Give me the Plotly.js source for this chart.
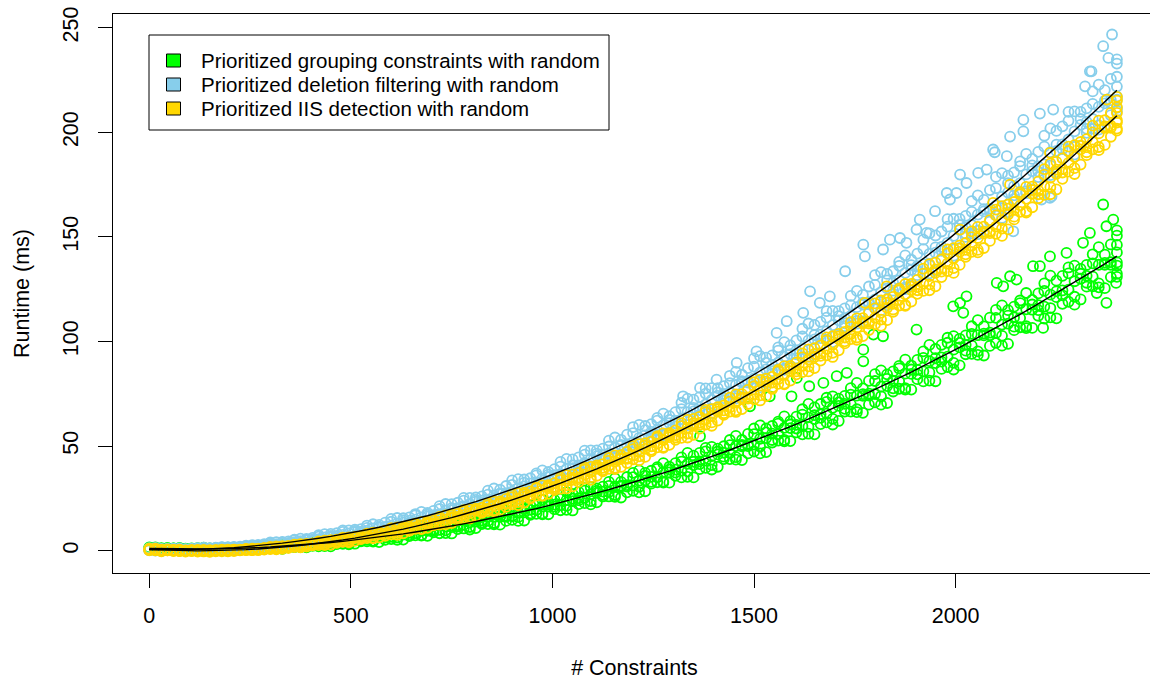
<!DOCTYPE html>
<html>
<head>
<meta charset="utf-8">
<script src="https://cdn.plot.ly/plotly-3.0.1.min.js"></script>
<style>
html,body{margin:0;padding:0;overflow:hidden;background:#fff;}
#chart{width:1170px;height:680px;}
</style>
</head>
<body>
<div id="chart"></div>
<script>
// # Constraints grids used for the sampled scatter rows and fitted curves
const constraints = [0,30,60,90,120,150,180,210,240,270,300,330,360,390,420,450,480,510,540,570,600,630,660,690,720,750,780,810,840,870,900,930,960,990,1020,1050,1080,1110,1140,1170,1200,1230,1260,1290,1320,1350,1380,1410,1440,1470,1500,1530,1560,1590,1620,1650,1680,1710,1740,1770,1800,1830,1860,1890,1920,1950,1980,2010,2040,2070,2100,2130,2160,2190,2220,2250,2280,2310,2340,2370,2400];
const constraintsMid = [15,45,75,105,135,165,195,225,255,285,315,345,375,405,435,465,495,525,555,585,615,645,675,705,735,765,795,825,855,885,915,945,975,1005,1035,1065,1095,1125,1155,1185,1215,1245,1275,1305,1335,1365,1395,1425,1455,1485,1515,1545,1575,1605,1635,1665,1695,1725,1755,1785,1815,1845,1875,1905,1935,1965,1995,2025,2055,2085,2115,2145,2175,2205,2235,2265,2295,2325,2355,2385,2400];

const seriesNames = ["Prioritized grouping constraints with random","Prioritized deletion filtering with random","Prioritized IIS detection with random"];
const seriesColors = ["#00FF00","#87CEEB","#FFD700"];

// Prioritized grouping constraints (green) - runtime samples (ms)
const groupRow1 = [0.6,0.2,0.4,0.2,0.2,0.1,0.5,0.5,0.8,0.7,1.1,0.9,1.7,1.6,2.1,2.0,3.2,3.3,4.4,4.1,5.5,5.3,7.3,7.1,8.3,8.2,10.6,10.8,12.7,12.4,14.7,14.4,17.6,17.4,19.3,19.2,22.7,23.1,25.9,25.4,28.6,28.4,32.7,32.5,35.0,35.0,39.6,40.1,43.8,43.3,47.4,47.1,52.6,52.4,55.6,55.6,61.3,62.0,66.5,65.9,70.9,70.6,77.4,77.0,80.9,81.0,87.8,88.6,94.1,93.3,99.3,98.9,106.8,106.5,111.0,111.1,119.0,120.1,126.4,125.5,132.4];
const groupRow2 = [0.8,0.7,0.4,0.6,0.5,0.7,0.6,0.9,0.9,1.4,1.4,1.8,1.8,2.7,2.8,3.7,3.6,4.7,4.7,6.4,6.3,7.4,7.4,9.4,9.7,11.5,11.3,13.3,13.2,16.1,16.0,17.8,17.8,21.0,21.4,24.1,23.7,26.7,26.6,30.6,30.5,32.9,33.0,37.3,37.9,41.4,40.9,44.9,44.7,50.0,49.8,52.9,53.0,58.4,59.2,63.5,63.0,67.8,67.6,74.1,73.8,77.6,77.7,84.3,85.2,90.4,89.8,95.6,95.3,103.0,102.7,107.1,107.3,115.0,116.0,122.1,121.4,128.1,127.8,136.7,136.3];
const groupRow3 = [1.3,1.0,1.1,0.8,1.0,0.8,1.2,1.1,1.4,1.5,2.1,2.3,3.0,3.0,4.0,4.0,5.4,5.5,6.5,6.6,8.4,8.7,10.3,10.2,12.1,12.0,14.7,14.7,16.3,16.4,19.4,19.9,22.3,22.1,24.9,24.9,28.7,28.6,31.0,31.1,35.1,35.8,39.1,38.8,42.6,42.5,47.5,47.4,50.4,50.5,55.7,56.5,60.7,60.3,65.0,64.8,71.1,70.9,74.6,74.8,81.1,82.1,87.1,86.6,92.2,92.0,99.4,99.3,103.6,103.8,111.3,112.4,118.3,117.7,124.2,124.0,132.6,132.4,137.4,137.6,146.2];
const groupRow4 = [1.6,1.3,1.3,1.1,1.4,1.2,1.4,1.4,1.8,2.0,2.7,2.8,3.6,3.7,5.0,5.1,6.1,6.2,7.9,8.3,9.8,9.8,11.6,11.6,14.1,14.2,15.8,16.0,18.8,19.3,21.7,21.6,24.3,24.3,28.0,28.1,30.3,30.6,34.5,35.2,38.4,38.2,41.8,41.8,46.7,46.7,49.6,49.9,54.9,55.8,59.9,59.6,64.2,64.1,70.2,70.1,73.8,74.0,80.2,81.2,86.2,85.7,91.3,91.2,98.4,98.4,102.6,102.9,110.2,111.4,117.3,116.7,123.2,123.0,131.5,131.4,136.3,136.6,145.1,146.4,153.1];
const groupRow5 = [0.5,0.6,0.4,0.5,0.3,0.5,0.4,0.8,0.8,1.0,1.0,1.6,1.7,2.3,2.2,3.1,3.0,4.4,4.3,5.2,5.2,6.9,7.2,8.7,8.4,10.3,10.1,12.7,12.6,14.2,14.2,17.1,17.4,19.8,19.5,22.2,22.1,25.9,25.7,27.9,27.9,32.0,32.5,35.8,35.3,39.0,38.8,43.8,43.5,46.5,46.5,51.7,52.3,56.5,55.9,60.5,60.3,66.5,66.2,69.8,69.8,76.1,77.0,82.0,81.3,86.9,86.6,93.9,93.6,97.9,98.0,105.4,106.4,112.3,111.5,118.0,117.6,126.2,125.9,130.8,130.9];
const groupRow6 = [1.5,1.2,1.1,0.9,1.2,1.1,1.3,1.3,1.6,1.7,2.5,2.6,3.2,3.3,4.5,4.8,5.9,5.9,7.3,7.3,9.3,9.3,10.6,10.8,13.1,13.5,15.5,15.4,17.7,17.7,20.9,20.9,22.9,23.0,26.5,27.1,29.9,29.7,32.9,32.9,37.2,37.2,39.9,40.1,44.6,45.4,49.1,48.8,52.9,52.9,58.4,58.4,61.7,61.9,67.6,68.5,73.1,72.7,77.7,77.6,84.4,84.3,88.3,88.5,95.3,96.4,101.8,101.3,107.3,107.2,115.1,115.0,119.6,119.9,127.8,129.1,135.4,134.7,141.7,141.5,150.6];
const groupRow7 = [0.9,0.8,0.7,0.7,0.5,0.7,0.8,1.0,1.1,1.4,1.5,1.9,2.2,2.7,2.9,3.6,4.2,5.1,5.2,6.3,6.6,7.7,8.4,9.5,9.9,11.2,12.3,13.9,14.2,16.1,16.5,18.3,19.4,21.1,21.7,23.7,25.2,27.6,28.0,30.6,31.2,33.6,35.1,37.4,38.3,40.9,43.0,46.0,46.6,49.9,50.7,53.8,55.7,58.6,59.6,62.9,65.5,69.2,69.9,74.0,74.9,78.7,81.0,84.5,85.7,89.7,92.8,97.2,98.0,102.9,104.0,108.5,111.2,115.2,116.7,121.2,124.8,130.0,131.0,136.6,137.8];
const groupRow8 = [1.1,1.0,0.9,0.8,0.9,0.8,1.0,1.1,1.4,1.5,1.9,2.2,2.7,3.0,3.7,4.1,4.8,5.3,6.3,6.6,7.6,8.5,9.5,10.1,11.5,12.2,13.5,14.4,16.1,16.6,18.1,19.5,21.1,22.0,24.1,25.1,27.0,28.2,30.6,31.3,33.4,35.3,37.5,38.7,41.5,42.7,45.2,46.8,50.0,50.8,53.5,55.9,58.7,60.1,63.7,65.2,68.3,70.2,74.1,75.1,78.4,81.3,84.6,86.4,90.6,92.4,96.1,98.4,103.0,104.2,108.1,111.5,115.4,117.4,122.4,124.4,128.8,131.4,136.7,138.0,142.6];
const groupOutX = [1593,1606,1637,1672,1771,1771,1796,2011,2019,2118,2135,2217,2275,2333,2366,2374,2374,2391,2398,1994,2027,2102,2151,2209,1903,1820,1539,1490,1705,1730,1366,2316,2234,2192,2350];
const groupOutY = [73.8,82.6,78.6,80.2,96.1,90.5,103.3,118.5,113.7,126.4,131.2,106.5,142.4,151.9,165.5,155.1,118.5,158.3,128.0,116.8,121.6,128.0,129.6,136.0,105.7,102.5,73.8,69.0,83.4,85.0,54.7,147.2,140.7,136.0,123.2];
const groupFit = [1.0,0.9,0.8,0.7,0.7,0.8,0.9,1.0,1.2,1.4,1.7,2.1,2.4,2.9,3.3,3.9,4.4,5.1,5.7,6.5,7.2,8.0,8.9,9.8,10.8,11.8,12.8,13.9,15.1,16.3,17.5,18.8,20.1,21.5,23.0,24.5,26.0,27.6,29.2,30.9,32.6,34.4,36.2,38.0,40.0,41.9,43.9,46.0,48.1,50.3,52.5,54.7,57.0,59.3,61.7,64.2,66.7,69.2,71.8,74.4,77.1,79.8,82.6,85.4,88.3,91.2,94.2,97.2,100.3,103.4,106.6,109.8,113.0,116.3,119.7,123.1,126.5,130.0,133.6,137.1,140.8];

// Prioritized deletion filtering (sky blue)
const deletionRow1 = [0.1,-0.2,0.1,-0.1,0.1,0.2,0.7,0.9,1.5,1.6,2.3,2.4,3.5,3.8,4.7,5.0,6.6,7.1,8.6,8.9,10.7,11.1,13.6,14.0,15.9,16.4,19.4,20.3,23.0,23.3,26.3,26.9,30.9,31.5,34.2,35.0,39.4,40.7,44.4,44.9,49.1,49.9,55.3,56.1,59.7,60.8,66.5,68.2,73.0,73.7,79.0,80.0,86.8,87.8,92.4,93.7,100.8,102.9,108.8,109.6,116.1,117.3,125.5,126.7,132.2,133.8,142.2,144.7,151.7,152.6,160.3,161.7,171.4,172.8,179.1,181.0,190.8,193.7,201.8,202.8,211.7];
const deletionRow2 = [0.3,0.3,0.1,0.4,0.4,0.8,0.8,1.3,1.6,2.3,2.6,3.3,3.6,4.9,5.4,6.7,6.9,8.5,8.9,11.1,11.6,13.2,13.7,16.4,17.3,19.7,20.1,22.8,23.4,27.0,27.7,30.2,31.1,35.1,36.3,39.8,40.4,44.3,45.1,50.1,51.0,54.4,55.5,60.9,62.6,67.2,67.8,72.9,73.9,80.4,81.4,85.8,87.1,93.9,95.9,101.6,102.4,108.7,109.9,117.8,119.0,124.3,125.9,134.0,136.4,143.3,144.2,151.6,153.0,162.3,163.8,169.9,171.8,181.3,184.1,192.0,193.1,201.7,203.3,214.0,215.6];
const deletionRow3 = [0.8,0.6,0.8,0.6,0.9,0.9,1.5,1.6,2.1,2.4,3.4,3.9,5.0,5.2,6.7,7.0,9.0,9.4,10.9,11.3,13.8,14.6,16.9,17.2,19.9,20.3,23.9,24.3,26.8,27.4,31.4,32.5,36.0,36.3,40.2,40.7,45.9,46.4,49.8,50.6,56.2,57.6,62.2,62.5,67.7,68.3,75.1,75.7,80.1,81.0,88.0,89.8,95.6,95.9,102.4,103.1,111.4,112.1,117.4,118.6,127.1,129.2,136.2,136.5,144.2,145.0,154.9,155.7,162.0,163.3,173.3,175.7,183.9,184.2,193.2,194.1,205.5,206.4,213.6,215.1,226.6];
const deletionRow4 = [1.3,0.9,1.1,0.9,1.4,1.4,1.7,1.9,2.6,3.1,4.1,4.4,5.7,6.1,7.9,8.3,9.7,10.3,12.6,13.4,15.6,15.9,18.5,19.0,22.3,22.9,25.2,25.9,29.7,30.9,34.2,34.6,38.4,39.0,43.9,44.6,47.9,48.8,54.1,55.5,60.1,60.5,65.5,66.2,72.7,73.4,77.7,78.7,85.5,87.3,93.0,93.4,99.7,100.5,108.6,109.4,114.6,115.8,124.2,126.3,133.2,133.6,141.2,142.0,151.7,152.6,158.7,160.1,169.9,172.4,180.5,180.9,189.7,190.7,201.9,202.9,210.0,211.5,222.8,225.6,234.9];
const deletionRow5 = [0.0,0.2,0.0,0.2,0.2,0.5,0.6,1.2,1.5,1.9,2.2,3.1,3.5,4.5,4.7,6.0,6.3,8.2,8.6,10.0,10.4,12.7,13.5,15.6,16.0,18.5,19.0,22.2,22.8,25.1,25.8,29.5,30.7,33.9,34.4,38.0,38.7,43.5,44.2,47.4,48.4,53.5,55.0,59.4,60.0,64.8,65.7,71.8,72.8,76.9,78.1,84.5,86.5,91.9,92.7,98.7,99.7,107.3,108.5,113.5,115.0,122.8,125.1,131.7,132.6,139.7,141.0,150.0,151.3,157.3,159.1,168.2,170.9,178.6,179.6,187.9,189.4,199.8,201.3,208.2,210.2];
const deletionRow6 = [1.2,0.8,0.9,0.7,1.2,1.2,1.7,1.8,2.4,2.7,3.9,4.2,5.2,5.6,7.4,8.0,9.7,10.0,12.0,12.3,15.2,15.5,17.5,18.0,21.3,22.2,25.2,25.4,28.7,29.1,33.6,34.0,36.9,37.6,42.4,43.6,47.8,47.9,52.6,53.0,59.1,59.6,63.5,64.3,70.7,72.2,77.6,77.7,83.6,84.1,91.9,92.3,97.2,98.1,106.1,107.9,114.5,114.5,121.8,122.3,131.7,132.3,138.1,139.1,148.7,150.7,158.5,158.6,167.1,167.7,178.7,179.3,186.1,187.3,198.4,200.7,209.8,209.8,219.6,220.2,232.9];
const deletionRow7 = [0.4,0.3,0.3,0.4,0.4,0.7,1.0,1.4,1.7,2.3,2.7,3.4,4.0,4.9,5.5,6.5,7.5,8.9,9.5,11.1,11.9,13.5,14.8,16.4,17.5,19.4,21.1,23.4,24.4,27.0,28.2,30.7,32.6,35.2,36.6,39.4,41.9,45.2,46.5,50.1,51.7,55.1,57.7,61.0,62.9,66.6,69.9,74.0,75.8,80.3,82.3,86.7,89.9,94.0,96.4,101.0,104.9,110.1,112.2,117.7,120.1,125.4,129.2,134.2,137.0,142.5,147.2,153.3,155.7,162.2,165.0,171.2,175.7,181.5,184.7,191.1,196.6,203.6,206.4,213.9,217.1];
const deletionRow8 = [0.6,0.5,0.6,0.5,0.8,0.9,1.2,1.5,2.0,2.4,3.1,3.7,4.5,5.2,6.3,7.0,8.2,9.1,10.6,11.4,12.9,14.3,15.9,17.0,19.1,20.3,22.3,23.9,26.3,27.5,29.8,32.0,34.4,36.1,39.1,40.8,43.7,45.8,49.2,50.8,53.9,56.8,60.0,62.2,66.2,68.5,72.1,74.9,79.2,81.2,85.2,88.8,92.8,95.6,100.5,103.3,107.8,111.1,116.4,118.8,123.6,128.0,132.8,136.0,141.9,145.2,150.5,154.5,160.7,163.5,169.2,174.3,179.9,183.7,190.5,194.3,200.5,205.0,212.2,215.4,221.9];
const deletionOutX = [1366,1506,1581,1622,1639,1726,1771,1775,1862,1949,1978,2011,2056,2093,2097,2135,2143,2168,2213,2234,2238,2242,2321,2333,2337,2366,2379,2388,1820,1903,1911,1928,1986,2002,2027,2077,2127,1878,1837,1688,1663,1556,1457,1407,1324,2168,2209];
const deletionOutY = [77.8,95.3,109.7,113.7,124.0,133.6,146.3,140.7,149.5,162.3,171.0,179.8,180.6,191.8,190.5,198.0,152.7,200.5,167.9,168.7,169.4,210.9,222.0,229.2,229.2,241.2,235.6,246.8,144.0,153.5,158.3,151.9,167.9,171.0,175.8,182.2,188.6,147.2,148.7,121.6,118.5,104.1,89.8,81.8,73.8,206.0,209.0];
const deletionFit = [0.5,0.4,0.4,0.5,0.6,0.8,1.1,1.4,1.9,2.4,2.9,3.6,4.3,5.0,5.9,6.8,7.8,8.9,10.0,11.2,12.5,13.8,15.3,16.7,18.3,19.9,21.7,23.4,25.3,27.2,29.2,31.3,33.4,35.6,37.9,40.2,42.7,45.2,47.7,50.4,53.1,55.9,58.7,61.6,64.6,67.7,70.8,74.0,77.3,80.7,84.1,87.6,91.2,94.8,98.5,102.3,106.1,110.1,114.1,118.1,122.3,126.5,130.8,135.1,139.6,144.1,148.6,153.3,158.0,162.8,167.6,172.5,177.5,182.6,187.7,193.0,198.2,203.6,209.0,214.5,220.1];

// Prioritized IIS detection (gold)
const iisRow1 = [0.2,-0.3,-0.2,-0.5,-0.5,-0.6,-0.3,-0.2,0.2,0.2,0.7,0.8,1.7,1.9,2.6,2.9,4.2,4.7,6.0,6.3,7.8,8.3,10.4,10.9,12.5,13.2,15.7,16.7,18.9,19.6,22.2,23.0,26.3,27.2,29.6,30.7,34.4,35.8,39.1,40.0,43.7,44.8,49.4,50.6,53.9,55.4,60.3,62.2,66.5,67.7,72.4,73.9,79.7,81.3,85.4,87.3,93.4,95.8,101.1,102.6,108.3,110.2,117.2,119.1,124.2,126.4,133.7,136.6,142.9,144.7,151.5,153.6,162.0,164.2,170.1,172.7,181.2,184.6,191.9,194.0,201.8];
const iisRow2 = [0.3,0.1,-0.2,-0.1,-0.2,-0.1,-0.2,0.2,0.3,0.8,1.0,1.5,1.7,2.7,3.1,4.2,4.5,5.8,6.2,8.0,8.5,9.8,10.5,12.7,13.6,15.6,16.2,18.5,19.3,22.3,23.2,25.4,26.4,29.8,31.2,34.2,35.1,38.5,39.6,43.9,45.1,48.2,49.6,54.1,56.0,60.1,61.3,65.7,67.1,72.7,74.2,78.1,79.9,85.7,88.1,93.1,94.6,100.1,101.9,108.6,110.5,115.3,117.5,124.5,127.3,133.4,135.1,141.7,143.8,151.8,154.0,159.7,162.3,170.4,173.8,180.8,182.9,190.5,193.0,202.2,204.7];
const iisRow3 = [0.7,0.4,0.3,0.0,0.1,0.0,0.3,0.4,0.7,0.8,1.5,1.9,2.7,3.0,4.0,4.4,5.9,6.3,7.5,8.1,10.0,10.8,12.6,13.2,15.3,16.0,18.7,19.5,21.6,22.6,25.6,27.0,29.8,30.6,33.8,34.8,38.8,39.9,42.9,44.2,48.5,50.3,54.1,55.3,59.5,60.9,66.1,67.6,71.3,73.1,78.6,80.8,85.7,87.1,92.4,94.1,100.5,102.4,107.0,109.1,115.8,118.6,124.4,126.2,132.5,134.5,142.2,144.4,149.9,152.4,160.3,163.5,170.4,172.4,179.8,182.2,191.1,193.6,200.0,202.9,212.0];
const iisRow4 = [1.0,0.6,0.5,0.3,0.4,0.3,0.5,0.5,1.0,1.3,2.0,2.2,3.1,3.5,4.8,5.2,6.3,6.9,8.6,9.4,11.1,11.6,13.6,14.3,16.8,17.6,19.6,20.5,23.4,24.7,27.4,28.3,31.2,32.3,36.1,37.2,40.0,41.4,45.5,47.2,50.9,52.1,56.1,57.5,62.5,64.0,67.7,69.4,74.7,76.9,81.6,83.1,88.2,89.9,96.2,98.0,102.5,104.6,111.1,113.9,119.6,121.3,127.5,129.5,137.0,139.2,144.6,147.1,154.8,158.0,164.7,166.7,173.9,176.4,185.1,187.6,193.9,196.8,205.6,209.3,217.0];
const iisRow5 = [0.1,0.1,-0.2,-0.2,-0.4,-0.3,-0.3,0.1,0.2,0.5,0.6,1.3,1.6,2.5,2.7,3.7,4.0,5.5,5.9,7.1,7.6,9.5,10.3,12.1,12.6,14.7,15.3,18.1,18.8,20.9,21.8,24.9,26.2,29.0,29.8,32.9,33.9,37.9,39.0,41.9,43.2,47.5,49.2,53.0,54.1,58.3,59.7,64.9,66.3,70.1,71.8,77.3,79.5,84.3,85.7,90.9,92.6,99.1,100.8,105.5,107.5,114.2,117.0,122.8,124.5,130.8,132.8,140.5,142.6,148.1,150.5,158.4,161.6,168.5,170.4,177.8,180.1,189.1,191.5,197.9,200.8];
const iisRow6 = [0.9,0.5,0.4,0.1,0.3,0.2,0.5,0.5,0.8,1.0,1.8,2.1,2.8,3.2,4.4,5.0,6.2,6.6,8.1,8.7,10.7,11.3,12.9,13.7,16.1,17.1,19.4,20.1,22.6,23.5,26.8,27.7,30.2,31.3,34.9,36.5,39.7,40.7,44.3,45.6,50.0,51.4,54.7,56.2,61.0,63.0,67.3,68.6,73.2,74.8,80.5,82.2,86.4,88.3,94.3,96.8,102.0,103.6,109.3,111.2,118.2,120.2,125.3,127.6,134.8,137.7,144.0,145.9,152.7,154.9,163.1,165.5,171.4,174.1,182.4,185.9,193.2,195.4,203.2,205.8,215.2];
const iisRow7 = [0.4,0.2,0.0,-0.1,-0.2,-0.1,0.0,0.3,0.4,0.8,1.0,1.6,2.1,2.7,3.2,4.1,4.9,6.0,6.6,7.9,8.7,10.1,11.2,12.7,13.7,15.4,17.0,19.0,20.0,22.3,23.5,25.8,27.6,29.9,31.4,33.9,36.3,39.1,40.7,43.8,45.6,48.7,51.2,54.3,56.3,59.7,62.7,66.5,68.5,72.6,74.8,78.8,82.0,85.8,88.4,92.6,96.4,101.1,103.6,108.6,111.3,116.1,119.9,124.6,127.7,132.8,137.3,142.9,145.8,151.7,154.9,160.7,165.1,170.6,174.2,180.2,185.4,191.9,195.3,202.1,205.8];
const iisRow8 = [0.6,0.3,0.2,0.0,0.0,0.0,0.2,0.3,0.6,0.9,1.3,1.8,2.4,3.0,3.8,4.4,5.4,6.2,7.4,8.2,9.4,10.7,12.1,13.1,14.9,16.1,17.9,19.3,21.4,22.7,24.7,26.7,28.9,30.5,33.2,35.0,37.5,39.6,42.6,44.3,47.2,49.9,52.9,55.2,58.7,61.1,64.4,67.1,71.0,73.3,76.9,80.4,84.2,87.0,91.4,94.3,98.5,101.9,106.7,109.4,113.8,118.0,122.6,126.0,131.3,134.8,139.8,143.8,149.5,152.7,158.0,162.9,168.2,172.2,178.4,182.5,188.3,192.9,199.5,203.2,209.3];
const iisOutX = [1775,1829,2011,2093,2135,2234,2375];
const iisOutY = [118.5,126.4,153.5,166.3,175.0,190.2,215.7];
const iisFit = [0.5,0.3,0.1,0.0,-0.1,0.0,0.1,0.3,0.5,0.8,1.2,1.7,2.2,2.8,3.5,4.3,5.1,6.0,7.0,8.0,9.1,10.3,11.6,12.9,14.3,15.8,17.4,19.0,20.7,22.4,24.3,26.2,28.2,30.2,32.3,34.5,36.8,39.1,41.6,44.0,46.6,49.2,51.9,54.7,57.6,60.5,63.5,66.5,69.7,72.9,76.1,79.5,82.9,86.4,90.0,93.6,97.3,101.1,105.0,108.9,112.9,117.0,121.1,125.3,129.6,134.0,138.4,142.9,147.5,152.1,156.8,161.6,166.5,171.4,176.4,181.5,186.7,191.9,197.2,202.6,208.0];

const xTicks = [0,500,1000,1500,2000];
const yTicks = [0,50,100,150,200,250];

function scatterTrace(rows, outX, outY, color){
  const xGrids = [constraints, constraintsMid, constraints, constraintsMid, constraintsMid, constraints, constraints, constraintsMid];
  let xs = [], ys = [];
  rows.forEach((r, i) => { xs = xs.concat(xGrids[i]); ys = ys.concat(r); });
  xs = xs.concat(outX); ys = ys.concat(outY);
  return {type:'scatter', mode:'markers', x:xs, y:ys, showlegend:false, hoverinfo:'skip',
    marker:{symbol:'circle-open', size:10, color:color, line:{width:1.8, color:color}}};
}
function fitTrace(vals){
  return {type:'scatter', mode:'lines', x:constraints, y:vals, showlegend:false, hoverinfo:'skip',
    line:{color:'black', width:1.4}};
}

const data = [
  scatterTrace([groupRow1,groupRow2,groupRow3,groupRow4,groupRow5,groupRow6,groupRow7,groupRow8], groupOutX, groupOutY, seriesColors[0]),
  scatterTrace([deletionRow1,deletionRow2,deletionRow3,deletionRow4,deletionRow5,deletionRow6,deletionRow7,deletionRow8], deletionOutX, deletionOutY, seriesColors[1]),
  scatterTrace([iisRow1,iisRow2,iisRow3,iisRow4,iisRow5,iisRow6,iisRow7,iisRow8], iisOutX, iisOutY, seriesColors[2]),
  fitTrace(groupFit), fitTrace(deletionFit), fitTrace(iisFit)
];

// legend drawn as paper-anchored shapes + text (plot area: x 113..1156 px, y 14..573 px)
const PW = 1043, PH = 559, PL = 113, PB = 573;
const px = v => (v - PL) / PW;
const py = v => (PB - v) / PH;
const legendRows = [60.5, 84.5, 108.5];
const shapes = [
  {type:'rect', xref:'paper', yref:'paper', x0:px(149), x1:px(609), y0:py(130), y1:py(35),
   fillcolor:'white', line:{color:'black', width:1}, layer:'above'}
];
const annotations = [];
legendRows.forEach((cy, i) => {
  shapes.push({type:'rect', xref:'paper', yref:'paper', x0:px(166.5), x1:px(180.5), y0:py(cy+6.5), y1:py(cy-6.5),
    fillcolor:seriesColors[i], line:{color:'black', width:1}, layer:'above'});
  annotations.push({xref:'paper', yref:'paper', x:px(199), y:py(cy), xanchor:'left', yanchor:'middle',
    text:seriesNames[i], showarrow:false, font:{family:'Liberation Sans, Arial, sans-serif', size:20.5, color:'black'}});
});

const FONT = 'Liberation Sans, Arial, Helvetica, sans-serif';
const layout = {
  width:1170, height:680,
  margin:{l:113, r:14, t:14, b:107},
  paper_bgcolor:'white', plot_bgcolor:'white',
  font:{family:FONT, size:21.5, color:'black'},
  showlegend:false,
  hovermode:false,
  shapes:shapes,
  annotations:annotations,
  xaxis:{range:[-90,2497], tickmode:'array', tickvals:xTicks, ticktext:xTicks.map(String),
    ticks:'outside', ticklen:14, tickwidth:1, tickcolor:'black', ticklabelstandoff:9,
    showline:true, linecolor:'black', linewidth:1, mirror:true,
    showgrid:false, zeroline:false, automargin:false,
    tickfont:{family:FONT, size:21.5, color:'black'},
    title:{text:'# Constraints', font:{family:FONT, size:21.5, color:'black'}, standoff:33}},
  yaxis:{range:[-10.7,256.6], tickmode:'array', tickvals:yTicks, ticktext:yTicks.map(String),
    tickangle:-90,
    ticks:'outside', ticklen:14, tickwidth:1, tickcolor:'black', ticklabelstandoff:11,
    showline:true, linecolor:'black', linewidth:1, mirror:true,
    showgrid:false, zeroline:false, automargin:false,
    tickfont:{family:FONT, size:21.5, color:'black'},
    title:{text:'Runtime (ms)', font:{family:FONT, size:21.5, color:'black'}, standoff:23}}
};

Plotly.newPlot('chart', data, layout, {staticPlot:true, displayModeBar:false});
</script>
</body>
</html>
